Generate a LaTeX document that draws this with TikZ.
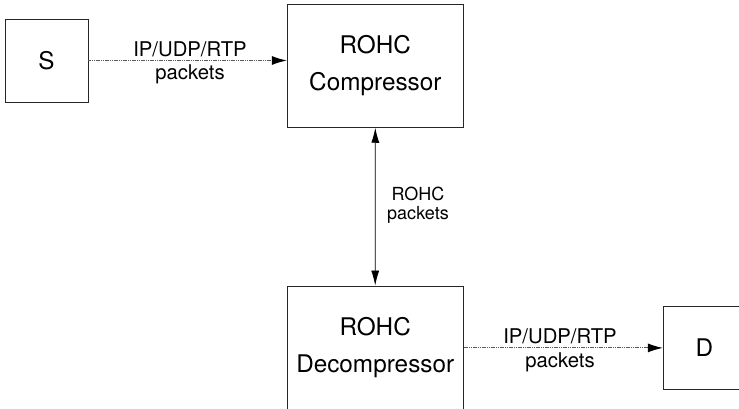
\documentclass[tikz,border=0pt]{standalone}
\usepackage{fontspec}
\setmainfont{TeX Gyre Heros}
\usetikzlibrary{arrows.meta}

\tikzset{
  block/.style={draw=black!85, line width=0.9pt, fill=white, inner sep=0pt},
  boxtext/.style={font=\fontsize{24.3}{37}\selectfont, align=center},
  flowlabel/.style={font=\fontsize{20.3}{23.5}\selectfont, align=center, inner sep=0pt},
  linklabel/.style={font=\fontsize{18}{18.5}\selectfont, align=center, inner sep=0pt},
  datalink/.style={draw=black!65, line width=1pt, dash pattern=on 1.2pt off 0.6pt,
    -{Latex[length=15pt,width=9pt,color=black]}},
  ctrllink/.style={draw=black, line width=0.8pt,
    {Latex[length=15pt,width=8pt]}-{Latex[length=15pt,width=8pt]}}
}

\begin{document}
\begin{tikzpicture}[x=1pt,y=-1pt]
  \useasboundingbox (0,0) rectangle (739,409);
  \begin{scope}
    \clip (0,0) rectangle (739,409);

    % endpoints and processing blocks
    \node[block, minimum width=83pt, minimum height=83pt] (src) at (46.5,60.5) {};
    \node[boxtext] at (src.center) {S};

    \node[block, minimum width=176pt, minimum height=122.6pt] (comp) at (375.3,66) {};
    \node[boxtext] at (375.3,66) {ROHC\\Compressor};

    \node[block, minimum width=176pt, minimum height=125pt] (decomp) at (375.2,348.5) {};
    \node[boxtext] at (375.2,348) {ROHC\\Decompressor};

    \node[block, minimum width=83pt, minimum height=82.3pt] (dst) at (704.8,347.9) {};
    \node[boxtext] at (704.3,347.9) {D};

    % packet flows
    \draw[datalink] (src.east) -- (src.east -| comp.west);
    \node[flowlabel] at (190,63) {IP/UDP/RTP\\packets};

    \draw[datalink] (decomp.east |- dst.west) -- (dst.west);
    \node[flowlabel] at (560,350.5) {IP/UDP/RTP\\packets};

    \draw[ctrllink] (comp.south) -- (decomp.north);
    \node[linklabel] at (418,205) {ROHC\\packets};
  \end{scope}
\end{tikzpicture}
\end{document}
